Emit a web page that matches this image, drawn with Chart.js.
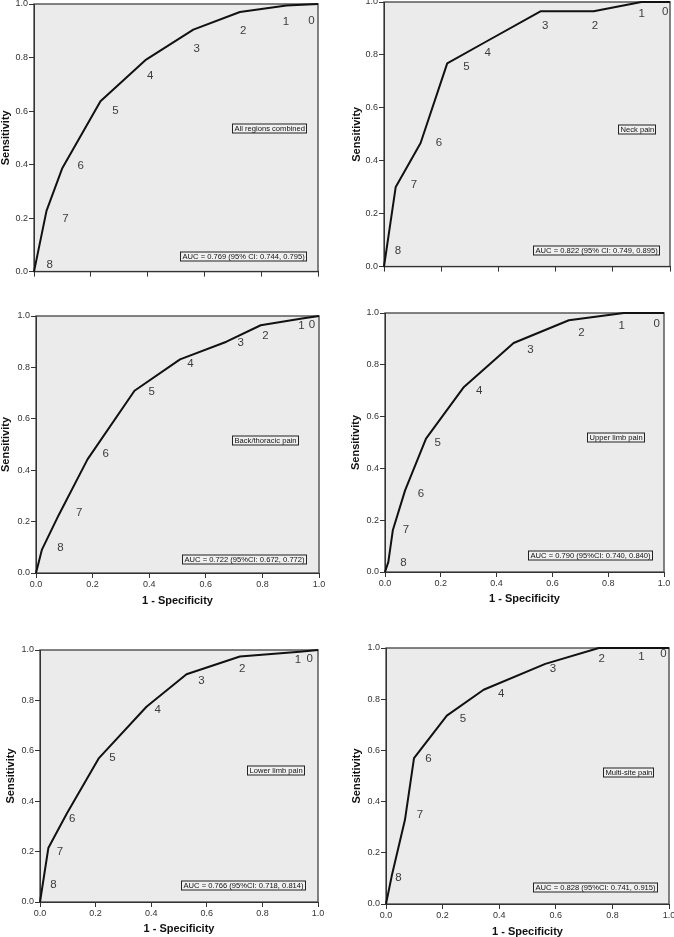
<!DOCTYPE html>
<html><head><meta charset="utf-8">
<script src="https://cdn.jsdelivr.net/npm/chart.js@4"></script>
<style>
html,body{margin:0;padding:0;background:#fff;width:674px;height:937px;overflow:hidden;position:relative}
canvas{position:absolute}
</style></head><body>
<script>
// ---- data ----
const cutoffs = ['0','1','2','3','4','5','6','7','8'];
const tickValues = [0, 0.2, 0.4, 0.6, 0.8, 1.0];
const tickLabels = ['0.0','0.2','0.4','0.6','0.8','1.0'];

// All regions combined
const allFpr = [0, 0.044, 0.099, 0.234, 0.392, 0.561, 0.725, 0.889, 1];
const allTpr = [0, 0.227, 0.385, 0.637, 0.790, 0.904, 0.970, 0.994, 1];
const allLabX = [0.977, 0.887, 0.737, 0.573, 0.409, 0.287, 0.164, 0.111, 0.055];
const allLabY = [0.938, 0.932, 0.901, 0.832, 0.733, 0.599, 0.395, 0.199, 0.027];

// Neck pain
const neckFpr = [0, 0.041, 0.128, 0.221, 0.350, 0.547, 0.733, 0.900, 1];
const neckTpr = [0, 0.301, 0.467, 0.768, 0.846, 0.965, 0.965, 1.000, 1];
const neckLabX = [0.983, 0.901, 0.738, 0.564, 0.363, 0.288, 0.192, 0.105, 0.049];
const neckLabY = [0.962, 0.956, 0.910, 0.910, 0.808, 0.755, 0.467, 0.310, 0.059];

// Back/thoracic pain
const backFpr = [0, 0.021, 0.080, 0.182, 0.348, 0.509, 0.673, 0.794, 0.940, 1];
const backTpr = [0, 0.091, 0.225, 0.442, 0.709, 0.831, 0.900, 0.964, 0.990, 1];
const backLabX = [0.975, 0.938, 0.811, 0.723, 0.546, 0.409, 0.246, 0.153, 0.086];
const backLabY = [0.964, 0.961, 0.921, 0.895, 0.812, 0.704, 0.462, 0.233, 0.097];

// Upper limb pain
const upperFpr = [0, 0.012, 0.028, 0.072, 0.147, 0.281, 0.461, 0.659, 0.856, 1];
const upperTpr = [0, 0.039, 0.161, 0.315, 0.515, 0.712, 0.884, 0.972, 1.000, 1];
const upperLabX = [0.974, 0.848, 0.704, 0.521, 0.338, 0.189, 0.129, 0.075, 0.066];
const upperLabY = [0.959, 0.950, 0.923, 0.856, 0.701, 0.499, 0.300, 0.163, 0.036];

// Lower limb pain
const lowerFpr = [0, 0.030, 0.096, 0.212, 0.383, 0.527, 0.719, 0.934, 1];
const lowerTpr = [0, 0.214, 0.350, 0.571, 0.775, 0.904, 0.974, 0.993, 1];
const lowerLabX = [0.970, 0.928, 0.727, 0.581, 0.423, 0.261, 0.116, 0.072, 0.048];
const lowerLabY = [0.964, 0.960, 0.927, 0.878, 0.762, 0.573, 0.330, 0.201, 0.069];

// Multi-site pain
const multiFpr = [0, 0.020, 0.067, 0.099, 0.215, 0.345, 0.563, 0.752, 0.890, 1];
const multiTpr = [0, 0.108, 0.329, 0.570, 0.736, 0.837, 0.938, 1.000, 1.000, 1];
const multiLabX = [0.980, 0.903, 0.762, 0.590, 0.407, 0.272, 0.150, 0.120, 0.044];
const multiLabY = [0.977, 0.964, 0.957, 0.918, 0.820, 0.724, 0.566, 0.349, 0.102];

const panelNames = ['All regions combined','Neck pain','Back/thoracic pain','Upper limb pain','Lower limb pain','Multi-site pain'];
const aucTexts = [
  'AUC = 0.769 (95% CI: 0.744, 0.795)',
  'AUC = 0.822 (95% CI: 0.749, 0.895)',
  'AUC = 0.722 (95%CI: 0.672, 0.772)',
  'AUC = 0.790 (95%CI: 0.740, 0.840)',
  'AUC = 0.766 (95%CI: 0.718, 0.814)',
  'AUC = 0.828 (95%CI: 0.741, 0.915)'
];

// ---- layout (pixel boxes of plot areas, annotation anchors) ----
const layouts = [
  {pl:34, pt:4,   pr:318, pb:272, yTitleX:5.5,   bottom:278,   xAxis:false, nameAt:[0.958,0.534], aucAt:[0.958,0.056]},
  {pl:384,pt:2,   pr:670, pb:267, yTitleX:356,   bottom:273,   xAxis:false, nameAt:[0.948,0.515], aucAt:[0.962,0.060]},
  {pl:36, pt:316, pr:319, pb:573, yTitleX:5.5,   bottom:606,   xAxis:true,  nameAt:[0.926,0.514], aucAt:[0.954,0.051]},
  {pl:385,pt:313, pr:664, pb:572, yTitleX:355,   bottom:604,   xAxis:true,  nameAt:[0.929,0.519], aucAt:[0.957,0.062]},
  {pl:40, pt:650, pr:318, pb:902, yTitleX:10.5,  bottom:934,   xAxis:true,  nameAt:[0.950,0.520], aucAt:[0.953,0.063]},
  {pl:386,pt:648, pr:669, pb:904, yTitleX:356,   bottom:937,   xAxis:true,  nameAt:[0.942,0.512], aucAt:[0.959,0.064]}
];

const series = [
  [allFpr, allTpr, allLabX, allLabY],
  [neckFpr, neckTpr, neckLabX, neckLabY],
  [backFpr, backTpr, backLabX, backLabY],
  [upperFpr, upperTpr, upperLabX, upperLabY],
  [lowerFpr, lowerTpr, lowerLabX, lowerLabY],
  [multiFpr, multiTpr, multiLabX, multiLabY]
];

const FONT = '"Liberation Sans", Arial, sans-serif';

const rocPlugin = {
  id: 'roc',
  beforeDraw(chart) {
    const {ctx, chartArea: a} = chart;
    ctx.save();
    ctx.fillStyle = '#ebebeb';
    ctx.fillRect(a.left, a.top, a.right - a.left, a.bottom - a.top);
    ctx.strokeStyle = '#5a5a5a';
    ctx.lineWidth = 1.5;
    ctx.strokeRect(a.left, a.top, a.right - a.left, a.bottom - a.top);
    ctx.restore();
  },
  afterDatasetsDraw(chart, args, opts) {
    const {ctx} = chart;
    const xs = chart.scales.x, ys = chart.scales.y;
    ctx.save();
    // cutoff labels
    const meta = chart.getDatasetMeta(1);
    ctx.font = '11.5px ' + FONT;
    ctx.fillStyle = '#3c3c3c';
    ctx.textAlign = 'center';
    ctx.textBaseline = 'middle';
    meta.data.forEach((el, i) => { ctx.fillText(cutoffs[i], el.x, el.y); });
    // boxed annotations
    const box = (text, at) => {
      ctx.font = '7.6px ' + FONT;
      const w = ctx.measureText(text).width;
      const xr = Math.round(xs.getPixelForValue(at[0])) + 0.5;
      const yc = Math.round(ys.getPixelForValue(at[1]));
      const x0 = Math.round(xr - w - 4) + 0.5;
      const h = 9;
      ctx.fillStyle = '#f0f0f0';
      ctx.fillRect(x0, yc - h / 2, xr - x0, h);
      ctx.strokeStyle = '#222';
      ctx.lineWidth = 1;
      ctx.strokeRect(x0, yc - h / 2 - 0.5, xr - x0, h);
      ctx.fillStyle = '#111';
      ctx.textAlign = 'left';
      ctx.textBaseline = 'middle';
      ctx.fillText(text, x0 + 2, yc);
    };
    box(opts.name, opts.nameAt);
    box(opts.auc, opts.aucAt);
    ctx.restore();
  }
};

layouts.forEach((b, k) => {
  const [fpr, tpr, labX, labY] = series[k];
  const left = Math.round(b.yTitleX - 5.5);
  const top = b.pt - 10;
  const right = b.pr + 10;
  const cv = document.createElement('canvas');
  cv.width = right - left;
  cv.height = b.bottom - top;
  cv.style.left = left + 'px';
  cv.style.top = top + 'px';
  document.body.appendChild(cv);

  const tickFont = {size: 9, family: FONT};
  const titleFont = {size: 11, weight: 'bold', family: FONT, lineHeight: 1};

  new Chart(cv, {
    type: 'scatter',
    data: {
      datasets: [
        {data: fpr.map((x, i) => ({x, y: tpr[i]})), showLine: true, borderColor: '#111',
         borderWidth: 2, pointRadius: 0, tension: 0, clip: false, borderJoinStyle: 'round'},
        {data: labX.map((x, i) => ({x, y: labY[i]})), showLine: false, pointRadius: 0}
      ]
    },
    options: {
      responsive: false, animation: false, events: [],
      layout: {padding: {top: 10, right: 10, left: 0, bottom: 0}},
      plugins: {
        legend: {display: false}, tooltip: {enabled: false},
        roc: {name: panelNames[k], auc: aucTexts[k], nameAt: b.nameAt, aucAt: b.aucAt}
      },
      scales: {
        x: {
          type: 'linear', min: 0, max: 1,
          afterBuildTicks: s => { s.ticks = tickValues.map(v => ({value: v})); },
          ticks: {display: b.xAxis, font: tickFont, color: '#333', padding: 1, maxRotation: 0,
                  callback: (v, i) => tickLabels[i]},
          grid: {drawOnChartArea: false, tickLength: 5, color: '#333'},
          border: {color: '#333', width: 1},
          title: {display: b.xAxis, text: '1 - Specificity', font: titleFont, color: '#111', padding: 0},
          afterFit: s => { s.height = b.bottom - b.pb; }
        },
        y: {
          type: 'linear', min: 0, max: 1,
          afterBuildTicks: s => { s.ticks = tickValues.map(v => ({value: v})); },
          ticks: {font: tickFont, color: '#333', padding: 1, callback: (v, i) => tickLabels[i]},
          grid: {drawOnChartArea: false, tickLength: 5, color: '#333'},
          border: {color: '#333', width: 1},
          title: {display: true, text: 'Sensitivity', font: titleFont, color: '#111', padding: 0},
          afterFit: s => { s.width = b.pl - left; }
        }
      }
    },
    plugins: [rocPlugin]
  });
});
</script>
</body></html>
